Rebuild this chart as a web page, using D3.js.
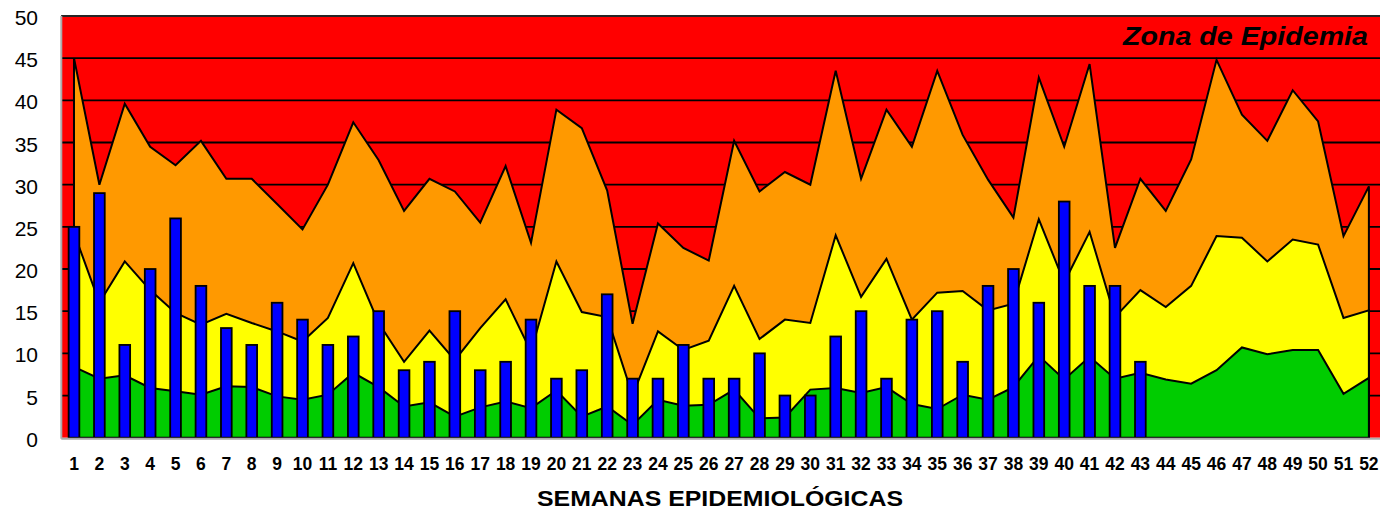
<!DOCTYPE html>
<html>
<head>
<meta charset="utf-8">
<script src="https://cdn.jsdelivr.net/npm/d3@7/dist/d3.min.js"></script>
<style>
  html, body { margin: 0; padding: 0; background: #fff; }
  svg { display: block; }
</style>
</head>
<body>
<svg id="chart" width="1380" height="514"></svg>
<script>
// ---- DATA ----
const semanas = d3.range(1, 53).map(String);
// upper limit of the "Alarma" zone (orange)
const alarma = [45, 30, 39.6, 34.5, 32.3, 35.2, 30.7, 30.7, 27.7, 24.7,
  30, 37.4, 32.9, 26.9, 30.7, 29.2, 25.5, 32.2, 23.1, 38.9,
  36.7, 29.3, 13.5, 25.4, 22.5, 21, 35.2, 29.2, 31.5, 30,
  43.5, 30.7, 38.9, 34.5, 43.5, 35.9, 30.6, 26.1, 42.7, 34.5,
  44.3, 22.5, 30.7, 26.9, 33, 44.8, 38.3, 35.2, 41.2, 37.5,
  23.9, 29.8];
// upper limit of the "Seguridad" zone (yellow)
const seguridad = [24.3, 16, 20.9, 17.5, 14.8, 13.4, 14.7, 13.6, 12.6, 11.4,
  14.2, 20.7, 13.6, 9.0, 12.7, 9.2, 13.0, 16.4, 10.2, 20.9,
  14.9, 14.3, 5.0, 12.6, 10.4, 11.5, 18.0, 11.7, 14.0, 13.6,
  24.0, 16.7, 21.2, 14.0, 17.2, 17.4, 15.1, 15.9, 25.9, 18.4,
  24.4, 14.3, 17.5, 15.5, 18.0, 23.9, 23.7, 20.9, 23.5, 22.9,
  14.2, 15.1];
// upper limit of the "Éxito" zone (green)
const exito = [8.4, 7.0, 7.4, 5.9, 5.5, 5.1, 6.1, 6.0, 4.9, 4.5,
  5.1, 7.7, 6.0, 3.7, 4.2, 2.5, 3.6, 4.3, 3.5, 5.6,
  2.5, 3.7, 1.5, 4.5, 3.8, 3.9, 5.7, 2.3, 2.4, 5.7,
  5.9, 5.3, 6.0, 4.0, 3.4, 5.1, 4.5, 6.0, 9.7, 6.9,
  9.6, 7.0, 7.7, 6.9, 6.4, 8.0, 10.7, 9.9, 10.4, 10.4,
  5.2, 7.1];
// reported cases (weeks 1-43)
const casos = [25, 29, 11, 20, 26, 18, 13, 11, 16, 14,
  11, 12, 15, 8, 9, 15, 8, 9, 14, 7,
  8, 17, 7, 7, 11, 7, 7, 10, 5, 5,
  12, 15, 7, 14, 15, 9, 18, 20, 16, 28,
  18, 18, 9];
const yTicks = d3.range(0, 51, 5);
const zonaLabel = "Zona de Epidemia";
const xTitle = "SEMANAS EPIDEMIOLÓGICAS";

// ---- LAYOUT ----
const svg = d3.select("#chart");
const mLeft = 61.3, mTop = 16, bandW = 25.39;
const mRight = mLeft + bandW * semanas.length;
const mBottom = 437.7;

const x = d3.scaleBand().domain(semanas).range([mLeft, mRight]).paddingInner(0).paddingOuter(0);
const y = d3.scaleLinear().domain([0, 50]).range([mBottom, mTop]);
const cx = d => x(d) + x.bandwidth() / 2;

// background (epidemic zone)
svg.append("rect").attr("x", mLeft).attr("y", mTop)
  .attr("width", mRight - mLeft).attr("height", mBottom - mTop)
  .attr("fill", "#FF0000");

// gridlines
svg.append("g").selectAll("line").data(yTicks.filter(t => t > 0)).join("line")
  .attr("x1", mLeft).attr("x2", mRight)
  .attr("y1", d => y(d)).attr("y2", d => y(d))
  .attr("stroke", "#000").attr("stroke-width", 1.8);

// stacked zones (upper limits)
const zones = [
  { vals: alarma, color: "#FF9900" },
  { vals: seguridad, color: "#FFFF00" },
  { vals: exito, color: "#00CC00" }
];
const area = d3.area()
  .x((d, i) => cx(semanas[i]))
  .y0(mBottom)
  .y1(d => y(d));
svg.append("g").selectAll("path").data(zones).join("path")
  .attr("d", z => area(z.vals))
  .attr("fill", z => z.color)
  .attr("stroke", "#000").attr("stroke-width", 2)
  .attr("stroke-linejoin", "miter");

// bars
const barW = 10.7;
svg.append("g").selectAll("rect").data(casos).join("rect")
  .attr("x", (d, i) => cx(semanas[i]) - barW / 2)
  .attr("y", d => y(d))
  .attr("width", barW)
  .attr("height", d => mBottom - y(d))
  .attr("fill", "#0000FF")
  .attr("stroke", "#000").attr("stroke-width", 1.8);

// axes frame
svg.append("line").attr("x1", mLeft).attr("x2", mRight).attr("y1", mTop).attr("y2", mTop)
  .attr("stroke", "#333").attr("stroke-width", 1.5);
svg.append("line").attr("x1", mLeft).attr("x2", mLeft).attr("y1", mTop).attr("y2", mBottom + 1)
  .attr("stroke", "#aaaaaa").attr("stroke-width", 2);
svg.append("line").attr("x1", mLeft).attr("x2", mRight).attr("y1", mBottom + 1).attr("y2", mBottom + 1)
  .attr("stroke", "#aaaaaa").attr("stroke-width", 2);

// y tick labels
svg.append("g").selectAll("text").data(yTicks).join("text")
  .attr("x", 38).attr("y", d => y(d) + 1.5)
  .attr("dy", "0.36em")
  .attr("text-anchor", "end")
  .attr("font-family", "'Liberation Sans', Arial, sans-serif")
  .attr("font-size", 21)
  .attr("fill", "#000")
  .text(d => d);

// x tick labels
svg.append("g").selectAll("text").data(semanas).join("text")
  .attr("x", d => cx(d)).attr("y", 470)
  .attr("text-anchor", "middle")
  .attr("font-family", "'Liberation Sans', Arial, sans-serif")
  .attr("font-weight", "bold")
  .attr("font-size", 17.5)
  .attr("fill", "#000")
  .text(d => d);

// x title
svg.append("text")
  .attr("x", 720).attr("y", 506)
  .attr("text-anchor", "middle")
  .attr("font-family", "'Liberation Sans', Arial, sans-serif")
  .attr("font-weight", "bold")
  .attr("font-size", 22)
  .attr("textLength", 366).attr("lengthAdjust", "spacingAndGlyphs")
  .attr("fill", "#000")
  .text(xTitle);

// zone label
svg.append("text")
  .attr("x", 1368).attr("y", 45)
  .attr("text-anchor", "end")
  .attr("font-family", "'Liberation Sans', Arial, sans-serif")
  .attr("font-weight", "bold")
  .attr("font-style", "italic")
  .attr("font-size", 26)
  .attr("textLength", 245).attr("lengthAdjust", "spacingAndGlyphs")
  .attr("fill", "#000")
  .text(zonaLabel);
</script>
</body>
</html>
